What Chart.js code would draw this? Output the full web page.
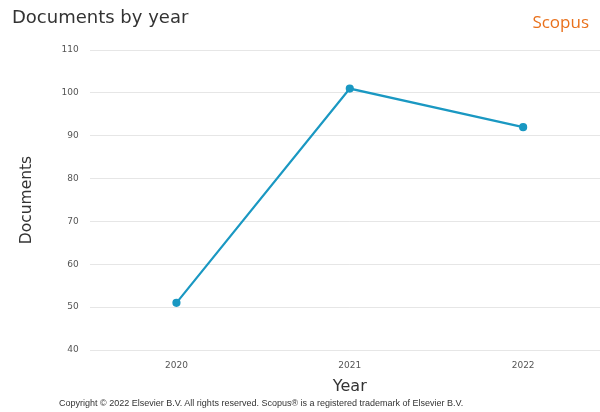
<!DOCTYPE html>
<html>
<head>
<meta charset="utf-8">
<script src="https://cdn.jsdelivr.net/npm/chart.js@4.4.0/dist/chart.umd.min.js"></script>
<style>
  html, body { margin: 0; padding: 0; background: #fff; overflow: hidden; }
  .wrap { position: relative; width: 600px; height: 412px; overflow: hidden; }
  .box { position: absolute; left: 0; top: 0; width: 615px; height: 412px; }
  .title { position: absolute; left: 12px; top: 6px; font-family: "DejaVu Sans", sans-serif; font-size: 18px; color: #333; }
  .brand { position: absolute; right: 11px; top: 10px; font-family: "Open Sans", sans-serif; font-size: 17px; color: #e9711c; }
  .copy { position: absolute; left: 59px; top: 398px; font-family: "Liberation Sans", sans-serif; font-size: 9px; color: #333; white-space: nowrap; }
</style>
</head>
<body>
<div class="wrap">
  <div class="box"><canvas id="chart"></canvas></div>
  <div class="title">Documents by year</div>
  <div class="brand">Scopus</div>
  <div class="copy">Copyright © 2022 Elsevier B.V. All rights reserved. Scopus® is a registered trademark of Elsevier B.V.</div>
</div>
<script>
const years = ['2020', '2021', '2022'];
const documents = [51, 101, 92];
const yTicks = [40, 50, 60, 70, 80, 90, 100, 110];

const ctx = document.getElementById('chart').getContext('2d');
new Chart(ctx, {
    type: 'line',
    data: {
        labels: years,
        datasets: [{
            label: 'Documents',
            data: documents,
            borderColor: '#1a98c2',
            backgroundColor: '#1a98c2',
            borderWidth: 2.2,
            pointRadius: 3,
            pointHoverRadius: 3,
            pointBackgroundColor: '#1a98c2',
            pointBorderColor: '#1a98c2',
            tension: 0,
            fill: false
        }]
    },
    options: {
        responsive: true,
        maintainAspectRatio: false,
        animation: false,
        layout: { padding: { top: 50, left: 18, right: 0, bottom: 16 } },
        plugins: {
            legend: { display: false },
            tooltip: { enabled: false }
        },
        scales: {
            x: {
                offset: true,
                grid: { display: false, drawTicks: false },
                border: { display: false },
                ticks: { color: '#555', font: { family: 'DejaVu Sans', size: 9 }, padding: 10 },
                title: { display: true, text: 'Year', color: '#333', font: { family: 'DejaVu Sans', size: 16 }, padding: { top: -4, bottom: 0 } }
            },
            y: {
                min: yTicks[0],
                max: yTicks[yTicks.length - 1],
                afterBuildTicks: axis => { axis.ticks = yTicks.map(v => ({ value: v })); },
                grid: { color: '#e6e6e6', drawTicks: false, lineWidth: 1 },
                border: { display: false },
                ticks: { color: '#555', font: { family: 'DejaVu Sans', size: 9 }, padding: 11 },
                title: { display: true, text: 'Documents', color: '#333', font: { family: 'DejaVu Sans', size: 15.5 }, padding: { top: 0, bottom: 14 } }
            }
        }
    }
});
</script>
</body>
</html>
